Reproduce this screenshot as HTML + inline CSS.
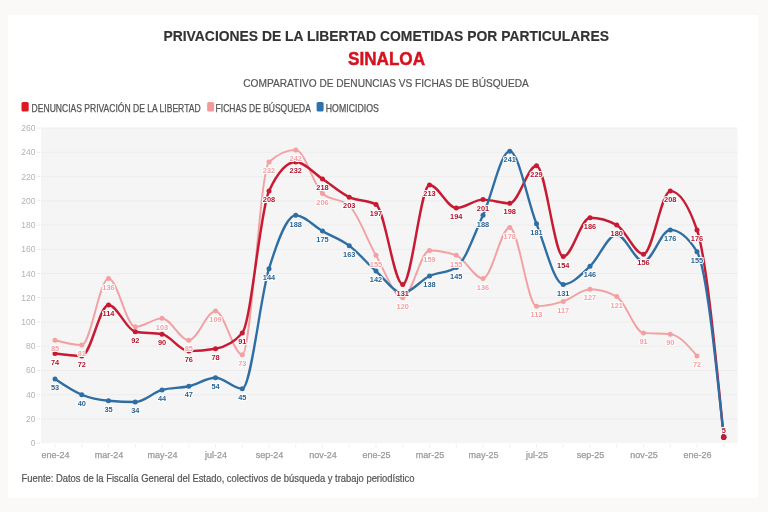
<!DOCTYPE html><html><head><meta charset="utf-8"><title>Privaciones de la libertad - Sinaloa</title><style>html,body{margin:0;padding:0;background:#fbf9f8;}svg{display:block}</style></head><body>
<svg width="768" height="512" viewBox="0 0 768 512" font-family='"Liberation Sans", Arial, sans-serif'>
<rect x="0" y="0" width="768" height="512" fill="#fbf9f8"/>
<rect x="8" y="15" width="750" height="482.5" fill="#ffffff"/>
<text x="386.2" y="41.4" text-anchor="middle" font-size="14.8" font-weight="bold" fill="#333333" stroke="#333333" stroke-width="0.15" textLength="445.5" lengthAdjust="spacingAndGlyphs">PRIVACIONES DE LA LIBERTAD COMETIDAS POR PARTICULARES</text>
<text x="386.5" y="64.8" text-anchor="middle" font-size="18" font-weight="bold" fill="#d5121e" stroke="#d5121e" stroke-width="0.45" textLength="77" lengthAdjust="spacingAndGlyphs">SINALOA</text>
<text x="386" y="86.5" text-anchor="middle" font-size="11.5" fill="#555555" stroke="#555555" stroke-width="0.2" textLength="285.5" lengthAdjust="spacingAndGlyphs">COMPARATIVO DE DENUNCIAS VS FICHAS DE BÚSQUEDA</text>
<rect x="21.5" y="102" width="7.2" height="9.6" rx="1.6" fill="#dc1820"/>
<text x="31.6" y="111.5" font-size="10.2" fill="#555555" stroke="#555555" stroke-width="0.25" textLength="169" lengthAdjust="spacingAndGlyphs">DENUNCIAS PRIVACIÓN DE LA LIBERTAD</text>
<rect x="207.1" y="102" width="7" height="9.6" rx="1.6" fill="#f59a9c"/>
<text x="215.6" y="111.5" font-size="10.2" fill="#555555" stroke="#555555" stroke-width="0.25" textLength="95.2" lengthAdjust="spacingAndGlyphs">FICHAS DE BÚSQUEDA</text>
<rect x="316.6" y="102" width="7" height="9.6" rx="1.6" fill="#2e72ad"/>
<text x="325.8" y="111.5" font-size="10.2" fill="#555555" stroke="#555555" stroke-width="0.25" textLength="53" lengthAdjust="spacingAndGlyphs">HOMICIDIOS</text>
<rect x="41.0" y="128.1" width="696.6" height="315.1" fill="#f5f5f5"/>
<line x1="41.0" x2="737.6" y1="418.96" y2="418.96" stroke="#ededed" stroke-width="1"/>
<line x1="41.0" x2="737.6" y1="394.72" y2="394.72" stroke="#ededed" stroke-width="1"/>
<line x1="41.0" x2="737.6" y1="370.49" y2="370.49" stroke="#ededed" stroke-width="1"/>
<line x1="41.0" x2="737.6" y1="346.25" y2="346.25" stroke="#ededed" stroke-width="1"/>
<line x1="41.0" x2="737.6" y1="322.01" y2="322.01" stroke="#ededed" stroke-width="1"/>
<line x1="41.0" x2="737.6" y1="297.77" y2="297.77" stroke="#ededed" stroke-width="1"/>
<line x1="41.0" x2="737.6" y1="273.53" y2="273.53" stroke="#ededed" stroke-width="1"/>
<line x1="41.0" x2="737.6" y1="249.30" y2="249.30" stroke="#ededed" stroke-width="1"/>
<line x1="41.0" x2="737.6" y1="225.06" y2="225.06" stroke="#ededed" stroke-width="1"/>
<line x1="41.0" x2="737.6" y1="200.82" y2="200.82" stroke="#ededed" stroke-width="1"/>
<line x1="41.0" x2="737.6" y1="176.58" y2="176.58" stroke="#ededed" stroke-width="1"/>
<line x1="41.0" x2="737.6" y1="152.34" y2="152.34" stroke="#ededed" stroke-width="1"/>
<line x1="41.0" x2="737.6" y1="128.11" y2="128.11" stroke="#ededed" stroke-width="1"/>
<text x="35.4" y="446.20" text-anchor="end" font-size="8.5" fill="#b3b3b3">0</text>
<line x1="37" x2="40" y1="443.20" y2="443.20" stroke="#e2e2e2" stroke-width="0.8"/>
<text x="35.4" y="421.96" text-anchor="end" font-size="8.5" fill="#b3b3b3">20</text>
<line x1="37" x2="40" y1="418.96" y2="418.96" stroke="#e2e2e2" stroke-width="0.8"/>
<text x="35.4" y="397.72" text-anchor="end" font-size="8.5" fill="#b3b3b3">40</text>
<line x1="37" x2="40" y1="394.72" y2="394.72" stroke="#e2e2e2" stroke-width="0.8"/>
<text x="35.4" y="373.49" text-anchor="end" font-size="8.5" fill="#b3b3b3">60</text>
<line x1="37" x2="40" y1="370.49" y2="370.49" stroke="#e2e2e2" stroke-width="0.8"/>
<text x="35.4" y="349.25" text-anchor="end" font-size="8.5" fill="#b3b3b3">80</text>
<line x1="37" x2="40" y1="346.25" y2="346.25" stroke="#e2e2e2" stroke-width="0.8"/>
<text x="35.4" y="325.01" text-anchor="end" font-size="8.5" fill="#b3b3b3">100</text>
<line x1="37" x2="40" y1="322.01" y2="322.01" stroke="#e2e2e2" stroke-width="0.8"/>
<text x="35.4" y="300.77" text-anchor="end" font-size="8.5" fill="#b3b3b3">120</text>
<line x1="37" x2="40" y1="297.77" y2="297.77" stroke="#e2e2e2" stroke-width="0.8"/>
<text x="35.4" y="276.53" text-anchor="end" font-size="8.5" fill="#b3b3b3">140</text>
<line x1="37" x2="40" y1="273.53" y2="273.53" stroke="#e2e2e2" stroke-width="0.8"/>
<text x="35.4" y="252.30" text-anchor="end" font-size="8.5" fill="#b3b3b3">160</text>
<line x1="37" x2="40" y1="249.30" y2="249.30" stroke="#e2e2e2" stroke-width="0.8"/>
<text x="35.4" y="228.06" text-anchor="end" font-size="8.5" fill="#b3b3b3">180</text>
<line x1="37" x2="40" y1="225.06" y2="225.06" stroke="#e2e2e2" stroke-width="0.8"/>
<text x="35.4" y="203.82" text-anchor="end" font-size="8.5" fill="#b3b3b3">200</text>
<line x1="37" x2="40" y1="200.82" y2="200.82" stroke="#e2e2e2" stroke-width="0.8"/>
<text x="35.4" y="179.58" text-anchor="end" font-size="8.5" fill="#b3b3b3">220</text>
<line x1="37" x2="40" y1="176.58" y2="176.58" stroke="#e2e2e2" stroke-width="0.8"/>
<text x="35.4" y="155.34" text-anchor="end" font-size="8.5" fill="#b3b3b3">240</text>
<line x1="37" x2="40" y1="152.34" y2="152.34" stroke="#e2e2e2" stroke-width="0.8"/>
<text x="35.4" y="131.11" text-anchor="end" font-size="8.5" fill="#b3b3b3">260</text>
<line x1="37" x2="40" y1="128.11" y2="128.11" stroke="#e2e2e2" stroke-width="0.8"/>
<line x1="55.00" x2="55.00" y1="444" y2="447.5" stroke="#ebebeb" stroke-width="0.8"/>
<text x="55.50" y="457.6" text-anchor="middle" font-size="9" fill="#9a9a9a" stroke="#9a9a9a" stroke-width="0.25">ene-24</text>
<line x1="81.75" x2="81.75" y1="444" y2="447.5" stroke="#ebebeb" stroke-width="0.8"/>
<line x1="108.50" x2="108.50" y1="444" y2="447.5" stroke="#ebebeb" stroke-width="0.8"/>
<text x="109.00" y="457.6" text-anchor="middle" font-size="9" fill="#9a9a9a" stroke="#9a9a9a" stroke-width="0.25">mar-24</text>
<line x1="135.25" x2="135.25" y1="444" y2="447.5" stroke="#ebebeb" stroke-width="0.8"/>
<line x1="162.00" x2="162.00" y1="444" y2="447.5" stroke="#ebebeb" stroke-width="0.8"/>
<text x="162.50" y="457.6" text-anchor="middle" font-size="9" fill="#9a9a9a" stroke="#9a9a9a" stroke-width="0.25">may-24</text>
<line x1="188.75" x2="188.75" y1="444" y2="447.5" stroke="#ebebeb" stroke-width="0.8"/>
<line x1="215.50" x2="215.50" y1="444" y2="447.5" stroke="#ebebeb" stroke-width="0.8"/>
<text x="216.00" y="457.6" text-anchor="middle" font-size="9" fill="#9a9a9a" stroke="#9a9a9a" stroke-width="0.25">jul-24</text>
<line x1="242.25" x2="242.25" y1="444" y2="447.5" stroke="#ebebeb" stroke-width="0.8"/>
<line x1="269.00" x2="269.00" y1="444" y2="447.5" stroke="#ebebeb" stroke-width="0.8"/>
<text x="269.50" y="457.6" text-anchor="middle" font-size="9" fill="#9a9a9a" stroke="#9a9a9a" stroke-width="0.25">sep-24</text>
<line x1="295.75" x2="295.75" y1="444" y2="447.5" stroke="#ebebeb" stroke-width="0.8"/>
<line x1="322.50" x2="322.50" y1="444" y2="447.5" stroke="#ebebeb" stroke-width="0.8"/>
<text x="323.00" y="457.6" text-anchor="middle" font-size="9" fill="#9a9a9a" stroke="#9a9a9a" stroke-width="0.25">nov-24</text>
<line x1="349.25" x2="349.25" y1="444" y2="447.5" stroke="#ebebeb" stroke-width="0.8"/>
<line x1="376.00" x2="376.00" y1="444" y2="447.5" stroke="#ebebeb" stroke-width="0.8"/>
<text x="376.50" y="457.6" text-anchor="middle" font-size="9" fill="#9a9a9a" stroke="#9a9a9a" stroke-width="0.25">ene-25</text>
<line x1="402.75" x2="402.75" y1="444" y2="447.5" stroke="#ebebeb" stroke-width="0.8"/>
<line x1="429.50" x2="429.50" y1="444" y2="447.5" stroke="#ebebeb" stroke-width="0.8"/>
<text x="430.00" y="457.6" text-anchor="middle" font-size="9" fill="#9a9a9a" stroke="#9a9a9a" stroke-width="0.25">mar-25</text>
<line x1="456.25" x2="456.25" y1="444" y2="447.5" stroke="#ebebeb" stroke-width="0.8"/>
<line x1="483.00" x2="483.00" y1="444" y2="447.5" stroke="#ebebeb" stroke-width="0.8"/>
<text x="483.50" y="457.6" text-anchor="middle" font-size="9" fill="#9a9a9a" stroke="#9a9a9a" stroke-width="0.25">may-25</text>
<line x1="509.75" x2="509.75" y1="444" y2="447.5" stroke="#ebebeb" stroke-width="0.8"/>
<line x1="536.50" x2="536.50" y1="444" y2="447.5" stroke="#ebebeb" stroke-width="0.8"/>
<text x="537.00" y="457.6" text-anchor="middle" font-size="9" fill="#9a9a9a" stroke="#9a9a9a" stroke-width="0.25">jul-25</text>
<line x1="563.25" x2="563.25" y1="444" y2="447.5" stroke="#ebebeb" stroke-width="0.8"/>
<line x1="590.00" x2="590.00" y1="444" y2="447.5" stroke="#ebebeb" stroke-width="0.8"/>
<text x="590.50" y="457.6" text-anchor="middle" font-size="9" fill="#9a9a9a" stroke="#9a9a9a" stroke-width="0.25">sep-25</text>
<line x1="616.75" x2="616.75" y1="444" y2="447.5" stroke="#ebebeb" stroke-width="0.8"/>
<line x1="643.50" x2="643.50" y1="444" y2="447.5" stroke="#ebebeb" stroke-width="0.8"/>
<text x="644.00" y="457.6" text-anchor="middle" font-size="9" fill="#9a9a9a" stroke="#9a9a9a" stroke-width="0.25">nov-25</text>
<line x1="670.25" x2="670.25" y1="444" y2="447.5" stroke="#ebebeb" stroke-width="0.8"/>
<line x1="697.00" x2="697.00" y1="444" y2="447.5" stroke="#ebebeb" stroke-width="0.8"/>
<text x="697.50" y="457.6" text-anchor="middle" font-size="9" fill="#9a9a9a" stroke="#9a9a9a" stroke-width="0.25">ene-26</text>
<line x1="723.75" x2="723.75" y1="444" y2="447.5" stroke="#ebebeb" stroke-width="0.8"/>
<path d="M55.00,340.19C63.92,342.61,72.83,345.04,81.75,345.04C90.67,345.04,99.58,278.38,108.50,278.38C117.42,278.38,126.33,326.86,135.25,326.86C144.17,326.86,153.08,318.37,162.00,318.37C170.92,318.37,179.83,340.19,188.75,340.19C197.67,340.19,206.58,311.10,215.50,311.10C224.42,311.10,233.33,354.73,242.25,354.73C251.17,354.73,260.08,170.12,269.00,162.04C277.92,153.96,286.83,149.92,295.75,149.92C304.67,149.92,313.58,185.47,322.50,193.55C331.42,201.63,340.33,197.59,349.25,205.67C358.17,213.75,367.08,240.00,376.00,255.36C384.92,270.71,393.83,297.77,402.75,297.77C411.67,297.77,420.58,250.51,429.50,250.51C438.42,250.51,447.33,252.12,456.25,255.36C465.17,258.59,474.08,278.38,483.00,278.38C491.92,278.38,500.83,227.48,509.75,227.48C518.67,227.48,527.58,306.26,536.50,306.26C545.42,306.26,554.33,304.24,563.25,301.41C572.17,298.58,581.08,289.29,590.00,289.29C598.92,289.29,607.83,291.71,616.75,296.56C625.67,301.41,634.58,332.11,643.50,332.92C652.42,333.73,661.33,333.32,670.25,334.13C679.17,334.94,688.08,345.44,697.00,355.94" fill="none" stroke="#f3a0a3" stroke-width="1.9" stroke-linejoin="round" stroke-linecap="round"/><circle cx="55.00" cy="340.19" r="2.5" fill="#f3a0a3"/><circle cx="81.75" cy="345.04" r="2.5" fill="#f3a0a3"/><circle cx="108.50" cy="278.38" r="2.5" fill="#f3a0a3"/><circle cx="135.25" cy="326.86" r="2.5" fill="#f3a0a3"/><circle cx="162.00" cy="318.37" r="2.5" fill="#f3a0a3"/><circle cx="188.75" cy="340.19" r="2.5" fill="#f3a0a3"/><circle cx="215.50" cy="311.10" r="2.5" fill="#f3a0a3"/><circle cx="242.25" cy="354.73" r="2.5" fill="#f3a0a3"/><circle cx="269.00" cy="162.04" r="2.5" fill="#f3a0a3"/><circle cx="295.75" cy="149.92" r="2.5" fill="#f3a0a3"/><circle cx="322.50" cy="193.55" r="2.5" fill="#f3a0a3"/><circle cx="349.25" cy="205.67" r="2.5" fill="#f3a0a3"/><circle cx="376.00" cy="255.36" r="2.5" fill="#f3a0a3"/><circle cx="402.75" cy="297.77" r="2.5" fill="#f3a0a3"/><circle cx="429.50" cy="250.51" r="2.5" fill="#f3a0a3"/><circle cx="456.25" cy="255.36" r="2.5" fill="#f3a0a3"/><circle cx="483.00" cy="278.38" r="2.5" fill="#f3a0a3"/><circle cx="509.75" cy="227.48" r="2.5" fill="#f3a0a3"/><circle cx="536.50" cy="306.26" r="2.5" fill="#f3a0a3"/><circle cx="563.25" cy="301.41" r="2.5" fill="#f3a0a3"/><circle cx="590.00" cy="289.29" r="2.5" fill="#f3a0a3"/><circle cx="616.75" cy="296.56" r="2.5" fill="#f3a0a3"/><circle cx="643.50" cy="332.92" r="2.5" fill="#f3a0a3"/><circle cx="670.25" cy="334.13" r="2.5" fill="#f3a0a3"/><circle cx="697.00" cy="355.94" r="2.5" fill="#f3a0a3"/>
<path d="M55.00,353.52C63.92,354.73,72.83,355.94,81.75,355.94C90.67,355.94,99.58,305.04,108.50,305.04C117.42,305.04,126.33,330.09,135.25,331.71C144.17,333.32,153.08,332.51,162.00,334.13C170.92,335.74,179.83,351.10,188.75,351.10C197.67,351.10,206.58,350.29,215.50,348.67C224.42,347.06,233.33,343.42,242.25,332.92C251.17,322.41,260.08,210.52,269.00,191.12C277.92,171.73,286.83,162.04,295.75,162.04C304.67,162.04,313.58,173.15,322.50,179.01C331.42,184.86,340.33,192.94,349.25,197.18C358.17,201.43,367.08,199.61,376.00,204.46C384.92,209.30,393.83,284.44,402.75,284.44C411.67,284.44,420.58,185.07,429.50,185.07C438.42,185.07,447.33,208.09,456.25,208.09C465.17,208.09,474.08,199.61,483.00,199.61C491.92,199.61,500.83,203.24,509.75,203.24C518.67,203.24,527.58,165.67,536.50,165.67C545.42,165.67,554.33,256.57,563.25,256.57C572.17,256.57,581.08,217.79,590.00,217.79C598.92,217.79,607.83,220.21,616.75,225.06C625.67,229.91,634.58,254.14,643.50,254.14C652.42,254.14,661.33,191.12,670.25,191.12C679.17,191.12,688.08,204.05,697.00,229.91C705.92,255.76,714.83,346.45,723.75,437.14" fill="none" stroke="#c71a33" stroke-width="2.45" stroke-linejoin="round" stroke-linecap="round"/><circle cx="55.00" cy="353.52" r="2.5" fill="#c71a33"/><circle cx="81.75" cy="355.94" r="2.5" fill="#c71a33"/><circle cx="108.50" cy="305.04" r="2.5" fill="#c71a33"/><circle cx="135.25" cy="331.71" r="2.5" fill="#c71a33"/><circle cx="162.00" cy="334.13" r="2.5" fill="#c71a33"/><circle cx="188.75" cy="351.10" r="2.5" fill="#c71a33"/><circle cx="215.50" cy="348.67" r="2.5" fill="#c71a33"/><circle cx="242.25" cy="332.92" r="2.5" fill="#c71a33"/><circle cx="269.00" cy="191.12" r="2.5" fill="#c71a33"/><circle cx="295.75" cy="162.04" r="2.5" fill="#c71a33"/><circle cx="322.50" cy="179.01" r="2.5" fill="#c71a33"/><circle cx="349.25" cy="197.18" r="2.5" fill="#c71a33"/><circle cx="376.00" cy="204.46" r="2.5" fill="#c71a33"/><circle cx="402.75" cy="284.44" r="2.5" fill="#c71a33"/><circle cx="429.50" cy="185.07" r="2.5" fill="#c71a33"/><circle cx="456.25" cy="208.09" r="2.5" fill="#c71a33"/><circle cx="483.00" cy="199.61" r="2.5" fill="#c71a33"/><circle cx="509.75" cy="203.24" r="2.5" fill="#c71a33"/><circle cx="536.50" cy="165.67" r="2.5" fill="#c71a33"/><circle cx="563.25" cy="256.57" r="2.5" fill="#c71a33"/><circle cx="590.00" cy="217.79" r="2.5" fill="#c71a33"/><circle cx="616.75" cy="225.06" r="2.5" fill="#c71a33"/><circle cx="643.50" cy="254.14" r="2.5" fill="#c71a33"/><circle cx="670.25" cy="191.12" r="2.5" fill="#c71a33"/><circle cx="697.00" cy="229.91" r="2.5" fill="#c71a33"/><circle cx="723.75" cy="437.14" r="2.5" fill="#c71a33"/>
<path d="M55.00,378.97C63.92,385.03,72.83,391.09,81.75,394.72C90.67,398.36,99.58,399.98,108.50,400.78C117.42,401.59,126.33,402.00,135.25,402.00C144.17,402.00,153.08,392.30,162.00,389.88C170.92,387.45,179.83,388.26,188.75,386.24C197.67,384.22,206.58,377.76,215.50,377.76C224.42,377.76,233.33,388.66,242.25,388.66C251.17,388.66,260.08,297.57,269.00,268.69C277.92,239.80,286.83,215.36,295.75,215.36C304.67,215.36,313.58,226.07,322.50,231.12C331.42,236.17,340.33,238.99,349.25,245.66C358.17,252.33,367.08,263.23,376.00,271.11C384.92,278.99,393.83,292.92,402.75,292.92C411.67,292.92,420.58,280.20,429.50,275.96C438.42,271.72,447.33,273.13,456.25,267.47C465.17,261.82,474.08,234.75,483.00,215.36C491.92,195.97,500.83,151.13,509.75,151.13C518.67,151.13,527.58,201.63,536.50,223.85C545.42,246.06,554.33,284.44,563.25,284.44C572.17,284.44,581.08,274.54,590.00,266.26C598.92,257.98,607.83,234.75,616.75,234.75C625.67,234.75,634.58,261.41,643.50,261.41C652.42,261.41,661.33,229.91,670.25,229.91C679.17,229.91,688.08,237.18,697.00,251.72C705.92,266.26,714.83,351.70,723.75,437.14" fill="none" stroke="#2f6ea3" stroke-width="2.35" stroke-linejoin="round" stroke-linecap="round"/><circle cx="55.00" cy="378.97" r="2.5" fill="#2f6ea3"/><circle cx="81.75" cy="394.72" r="2.5" fill="#2f6ea3"/><circle cx="108.50" cy="400.78" r="2.5" fill="#2f6ea3"/><circle cx="135.25" cy="402.00" r="2.5" fill="#2f6ea3"/><circle cx="162.00" cy="389.88" r="2.5" fill="#2f6ea3"/><circle cx="188.75" cy="386.24" r="2.5" fill="#2f6ea3"/><circle cx="215.50" cy="377.76" r="2.5" fill="#2f6ea3"/><circle cx="242.25" cy="388.66" r="2.5" fill="#2f6ea3"/><circle cx="269.00" cy="268.69" r="2.5" fill="#2f6ea3"/><circle cx="295.75" cy="215.36" r="2.5" fill="#2f6ea3"/><circle cx="322.50" cy="231.12" r="2.5" fill="#2f6ea3"/><circle cx="349.25" cy="245.66" r="2.5" fill="#2f6ea3"/><circle cx="376.00" cy="271.11" r="2.5" fill="#2f6ea3"/><circle cx="402.75" cy="292.92" r="2.5" fill="#2f6ea3"/><circle cx="429.50" cy="275.96" r="2.5" fill="#2f6ea3"/><circle cx="456.25" cy="267.47" r="2.5" fill="#2f6ea3"/><circle cx="483.00" cy="215.36" r="2.5" fill="#2f6ea3"/><circle cx="509.75" cy="151.13" r="2.5" fill="#2f6ea3"/><circle cx="536.50" cy="223.85" r="2.5" fill="#2f6ea3"/><circle cx="563.25" cy="284.44" r="2.5" fill="#2f6ea3"/><circle cx="590.00" cy="266.26" r="2.5" fill="#2f6ea3"/><circle cx="616.75" cy="234.75" r="2.5" fill="#2f6ea3"/><circle cx="643.50" cy="261.41" r="2.5" fill="#2f6ea3"/><circle cx="670.25" cy="229.91" r="2.5" fill="#2f6ea3"/><circle cx="697.00" cy="251.72" r="2.5" fill="#2f6ea3"/><circle cx="723.75" cy="437.14" r="2.5" fill="#2f6ea3"/>
<circle cx="723.75" cy="437.14" r="2.8" fill="#c71a33"/>
<g text-anchor="middle" font-size="7.4" font-weight="bold" fill="#2a6496" stroke="#ffffff" stroke-width="2" stroke-linejoin="round" paint-order="stroke"><text x="55.00" y="390.17">53</text><text x="81.75" y="405.92">40</text><text x="108.50" y="411.98">35</text><text x="135.25" y="413.20">34</text><text x="162.00" y="401.08">44</text><text x="188.75" y="397.44">47</text><text x="215.50" y="388.96">54</text><text x="242.25" y="399.86">45</text><text x="269.00" y="279.89">144</text><text x="295.75" y="226.56">188</text><text x="322.50" y="242.32">175</text><text x="349.25" y="256.86">163</text><text x="376.00" y="282.31">142</text><text x="429.50" y="287.16">138</text><text x="456.25" y="278.67">145</text><text x="483.00" y="226.56">188</text><text x="509.75" y="162.33">241</text><text x="536.50" y="235.05">181</text><text x="563.25" y="295.64">131</text><text x="590.00" y="277.46">146</text><text x="670.25" y="241.11">176</text><text x="697.00" y="262.92">155</text></g>
<g text-anchor="middle" font-size="7.4" font-weight="bold" fill="#f29ea2" stroke="#ffffff" stroke-width="2" stroke-linejoin="round" paint-order="stroke"><text x="55.00" y="351.39">85</text><text x="81.75" y="356.24">81</text><text x="108.50" y="289.58">136</text><text x="162.00" y="329.57">103</text><text x="188.75" y="351.39">85</text><text x="215.50" y="322.30">109</text><text x="242.25" y="365.93">73</text><text x="269.00" y="173.24">232</text><text x="295.75" y="161.12">242</text><text x="322.50" y="204.75">206</text><text x="376.00" y="266.56">155</text><text x="402.75" y="308.97">120</text><text x="429.50" y="261.71">159</text><text x="456.25" y="266.56">155</text><text x="483.00" y="289.58">136</text><text x="509.75" y="238.68">178</text><text x="536.50" y="317.46">113</text><text x="563.25" y="312.61">117</text><text x="590.00" y="300.49">127</text><text x="616.75" y="307.76">121</text><text x="643.50" y="344.12">91</text><text x="670.25" y="345.33">90</text><text x="697.00" y="367.14">72</text></g>
<g text-anchor="middle" font-size="7.4" font-weight="bold" fill="#b3132b" stroke="#ffffff" stroke-width="2" stroke-linejoin="round" paint-order="stroke"><text x="55.00" y="364.72">74</text><text x="81.75" y="367.14">72</text><text x="108.50" y="316.24">114</text><text x="135.25" y="342.91">92</text><text x="162.00" y="345.33">90</text><text x="188.75" y="362.30">76</text><text x="215.50" y="359.87">78</text><text x="242.25" y="344.12">91</text><text x="269.00" y="202.32">208</text><text x="295.75" y="173.24">232</text><text x="322.50" y="190.21">218</text><text x="349.25" y="208.38">203</text><text x="376.00" y="215.66">197</text><text x="402.75" y="295.64">131</text><text x="429.50" y="196.27">213</text><text x="456.25" y="219.29">194</text><text x="483.00" y="210.81">201</text><text x="509.75" y="214.44">198</text><text x="536.50" y="176.87">229</text><text x="563.25" y="267.77">154</text><text x="590.00" y="228.99">186</text><text x="616.75" y="236.26">180</text><text x="643.50" y="265.34">156</text><text x="670.25" y="202.32">208</text><text x="697.00" y="241.11">176</text></g>
<text x="723.75" y="432.6" text-anchor="middle" font-size="7.4" font-weight="bold" fill="#b3132b" stroke="#ffffff" stroke-width="2" paint-order="stroke">5</text>
<text x="21.5" y="482.4" font-size="10" fill="#555555" stroke="#555555" stroke-width="0.2" textLength="393" lengthAdjust="spacingAndGlyphs">Fuente: Datos de la Fiscalía General del Estado, colectivos de búsqueda y trabajo periodístico</text>
</svg></body></html>
